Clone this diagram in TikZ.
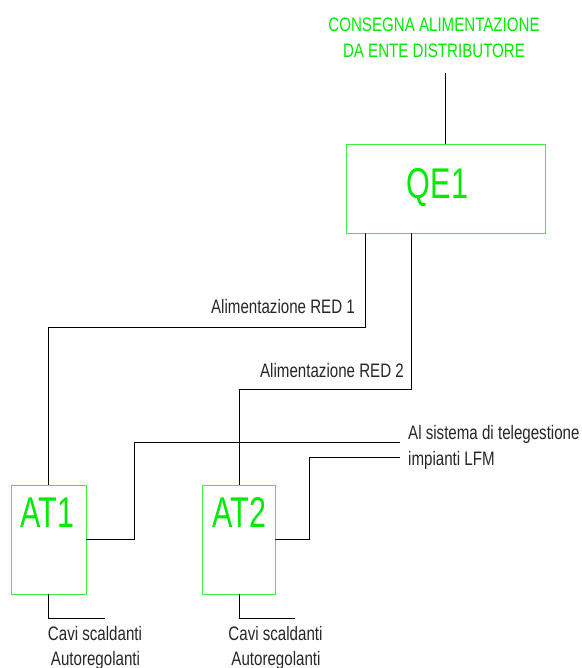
\documentclass[tikz,border=0pt]{standalone}
\usepackage{fontspec}
\newfontfamily\narrowfont[FakeStretch=0.775]{Liberation Sans}
\newfontfamily\bignarrowfont[FakeStretch=0.71]{Liberation Sans}
\definecolor{vivid}{RGB}{0,235,0}
\definecolor{boxgreen}{RGB}{60,240,60}
\tikzset{
  wire/.style={draw=black, line width=0.9pt},
  greenbox/.style={draw=boxgreen, line width=0.9pt},
  lbl/.style={inner sep=0pt, font=\narrowfont\fontsize{19.5}{24}\selectfont, text=black!85},
  glbl/.style={inner sep=0pt, font=\narrowfont\fontsize{19.5}{26}\selectfont, text=vivid},
  bigl/.style={inner sep=0pt, font=\bignarrowfont\fontsize{43}{48}\selectfont, text=vivid},
}
\begin{document}
\begin{tikzpicture}[x=1pt,y=-1pt]
\useasboundingbox (0,0) rectangle (581,668);
% boxes
\draw[greenbox] (346,144) rectangle (545,233);
\draw[greenbox] (11,485) rectangle (86,594);
\draw[greenbox] (202,485) rectangle (275,594);
\coordinate (qe1top) at (445,144);
\coordinate (qe1a) at (365,233);
\coordinate (qe1b) at (411.5,233);
\coordinate (at1top) at (48,485);
\coordinate (at2top) at (239,485);
\coordinate (at1r) at (86,539.5);
\coordinate (at2r) at (275,539.5);
\coordinate (at1b) at (48,594);
\coordinate (at2b) at (239,594);
\coordinate (feed) at (445,73);
\coordinate (tg1) at (399.5,442.5);
\coordinate (tg2) at (399.5,457.5);
\coordinate (c1) at (105,618);
\coordinate (c2) at (294.5,618);
% texts
\node[glbl, anchor=base] (t1) at (434,31.5) {CONSEGNA ALIMENTAZIONE};
\node[glbl, anchor=base] (t2) at (434,57.2) {DA ENTE DISTRIBUTORE};
\node[bigl, anchor=base] (qe1) at (437.5,199) {QE1};
\node[bigl, anchor=base] (at1) at (47.5,527.5) {AT1};
\node[bigl, anchor=base] (at2) at (239.3,527.5) {AT2};
\node[lbl, anchor=base east] (r1) at (355,313.3) {Alimentazione RED 1};
\node[lbl, anchor=base east] (r2) at (404,377.3) {Alimentazione RED 2};
\node[lbl, anchor=base west] (s1) at (408,439.3) {Al sistema di telegestione};
\node[lbl, anchor=base west] (s2) at (408,465) {impianti LFM};
\node[lbl, anchor=base] (cv1) at (95,640.7) {Cavi scaldanti};
\node[lbl, anchor=base] (au1) at (95.5,665) {Autoregolanti};
\node[lbl, anchor=base] (cv2) at (275.5,640.7) {Cavi scaldanti};
\node[lbl, anchor=base] (au2) at (276,665) {Autoregolanti};
% wires
\draw[wire] (feed) -- (qe1top);
\draw[wire] (qe1a) |- (48,327.3) -- (at1top);
\draw[wire] (qe1b) |- (239,389.3) -- (at2top);
\draw[wire] (at1r) -| (134,442.5) -- (tg1);
\draw[wire] (at2r) -| (309,457.5) -- (tg2);
\draw[wire] (at1b) |- (c1);
\draw[wire] (at2b) |- (c2);
\end{tikzpicture}
\end{document}
